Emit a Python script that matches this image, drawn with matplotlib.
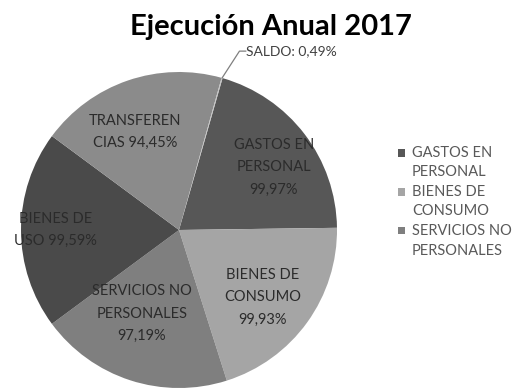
import numpy as np
import matplotlib.pyplot as plt
from matplotlib.patches import Rectangle

plt.rcParams['font.family'] = ['Lato', 'DejaVu Sans']

# execution per budget item (%), clockwise from GASTOS EN PERSONAL
categories = ['GASTOS EN PERSONAL', 'BIENES DE CONSUMO', 'SERVICIOS NO PERSONALES',
              'BIENES DE USO', 'TRANSFERENCIAS', 'SALDO']
values = [99.97, 99.93, 97.19, 99.59, 94.45, 0.49]
# slice labels as they are broken across lines
slice_text = ['GASTOS EN\nPERSONAL\n99,97%', 'BIENES DE\nCONSUMO\n99,93%',
              'SERVICIOS NO\nPERSONALES\n97,19%', 'BIENES DE\nUSO 99,59%',
              'TRANSFEREN\nCIAS 94,45%', 'SALDO: 0,49%']
legend_text = ['GASTOS EN\nPERSONAL', 'BIENES DE\nCONSUMO', 'SERVICIOS NO\nPERSONALES']

colors = ['#575757', '#a5a5a5', '#7f7f7f', '#4a4a4a', '#8b8b8b', '#bfbfbf']

W, H = 520, 388
fig = plt.figure(figsize=(W / 100, H / 100), dpi=100)
cx, cy, r = 179, 230, 158
ax = fig.add_axes([(cx - r) / W, (H - cy - r) / H, 2 * r / W, 2 * r / H])

wedges, _ = ax.pie(values, colors=colors, startangle=74, counterclock=False,
                   radius=1, wedgeprops=dict(linewidth=0))
ax.set_xlim(-1, 1)
ax.set_ylim(-1, 1)
ax.set_aspect('equal')
ax.axis('off')

label_r = [0.72, 0.68, 0.58, 0.78, 0.68]
label_da = [-4, -3, -6, 0, 5]
for w, txt, rr, da in zip(wedges[:5], slice_text[:5], label_r, label_da):
    ang = np.deg2rad((w.theta1 + w.theta2) / 2 + da)
    ax.text(rr * np.cos(ang), rr * np.sin(ang), txt, ha='center', va='center',
            fontsize=10.5, color='#2b2b2b', linespacing=1.75)

# leader line for the tiny SALDO slice
w = wedges[5]
ang = np.deg2rad((w.theta1 + w.theta2) / 2)
x0, y0 = np.cos(ang), np.sin(ang)
ax.plot([x0, x0 + 0.11, x0 + 0.15], [y0, y0 + 0.17, y0 + 0.17],
        color='#7f7f7f', lw=0.9, clip_on=False)
ax.text(x0 + 0.15, y0 + 0.17, slice_text[5], ha='left', va='center',
        fontsize=10, color='#404040')

fig.text(271 / W, 1 - 35 / H, 'Ejecución Anual 2017', ha='center', va='baseline',
         fontsize=21, fontweight='bold', color='#000000')

# legend for the first three items, laid out by hand (pixel units)
line_h = 19.5
for i, (w, txt) in enumerate(zip(wedges[:3], legend_text)):
    top = 153 + i * 2 * line_h
    fig.add_artist(Rectangle((398 / W, 1 - (top + 3.5) / H), 7 / W, 7 / H,
                             facecolor=w.get_facecolor(), edgecolor='none',
                             transform=fig.transFigure))
    for j, line in enumerate(txt.split('\n')):
        fig.text(412 / W, 1 - (top + j * line_h) / H, line, ha='left',
                 va='center', fontsize=10.5, color='#595959')

fig.savefig('out.png', dpi=100)
